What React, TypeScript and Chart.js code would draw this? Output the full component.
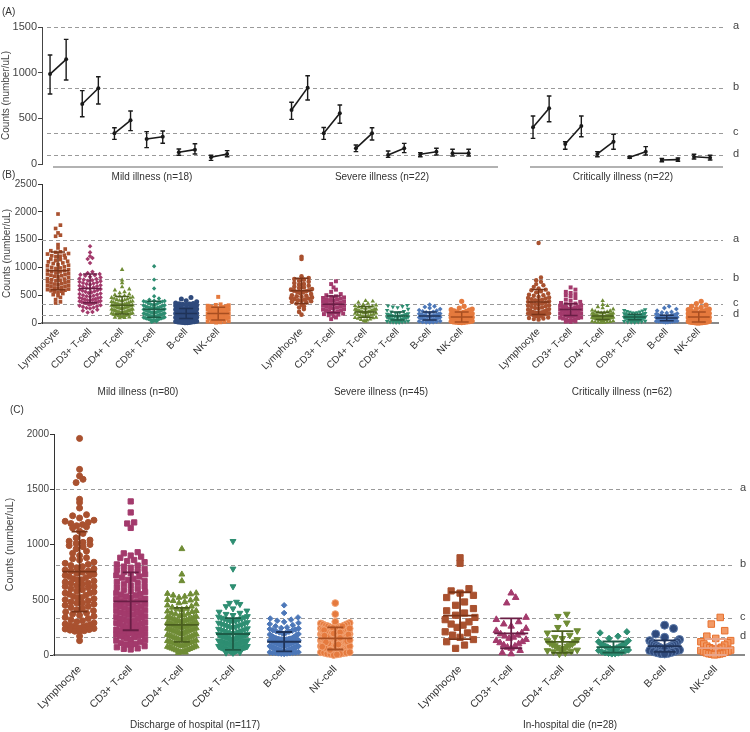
import { useEffect, useRef } from "react";
import { Chart, registerables } from "chart.js";

Chart.register(...registerables);
const FONT = "'Liberation Sans', Arial, Helvetica, sans-serif";
Chart.defaults.font.family = FONT;

const W = 750;
const cellTypes = ["Lymphocyte", "CD3+ T-cell", "CD4+ T-cell", "CD8+ T-cell", "B-cell", "NK-cell"];
const refLetters = ["a", "b", "c", "d"];

// ================= Panel A (paired means with error bars) =================
const aGroupLabels = ["Mild illness (n=18)", "Severe illness (n=22)", "Critically illness (n=22)"];
const aMildMean = [985, 1146, 657, 829, 336, 478, 274, 299, 128, 157, 73, 110];
const aMildLow = [767, 920, 518, 657, 270, 365, 179, 227, 95, 110, 40, 80];
const aMildHigh = [1194, 1365, 803, 956, 397, 580, 354, 361, 164, 222, 95, 146];
const aSevereMean = [591, 836, 336, 555, 172, 336, 99, 172, 106, 135, 117, 117];
const aSevereLow = [489, 701, 270, 446, 135, 263, 73, 124, 80, 99, 88, 88];
const aSevereHigh = [676, 967, 400, 646, 208, 397, 142, 226, 124, 172, 161, 161];
const aCritMean = [402, 610, 219, 416, 110, 244, 73, 135, 44, 48, 80, 69];
const aCritLow = [281, 463, 161, 299, 80, 161, 62, 99, 25, 30, 55, 44];
const aCritHigh = [526, 745, 244, 526, 135, 325, 84, 190, 62, 66, 106, 95];
const aRefs = [1500, 835, 336, 95];

// ================= Panel B (dot plots by severity) =================
const bGroupLabels = ["Mild illness (n=80)", "Severe illness (n=45)", "Critically illness (n=62)"];
const bRefs = [1500, 783, 350, 152];

const bMildLymph = [1960,1760,1700,1620,1580,1560,1410,1350,1330,1300,1280,1270,1250,1240,1220,1210,1200,1190,1170,1150,1140,1120,1110,1100,1080,1070,1050,1040,1030,1010,1000,990,980,960,950,940,930,920,900,890,880,870,860,850,840,830,820,800,790,780,770,760,750,740,730,720,710,700,690,680,670,660,650,640,630,620,610,600,590,580,570,560,550,530,510,490,460,420,380,360];
const bMildCD3 = [1380,1270,1200,1170,1150,1080,920,900,880,870,860,850,830,820,800,790,780,770,760,750,740,730,720,710,700,690,680,670,660,650,640,630,620,610,600,590,580,570,560,550,540,530,520,510,500,490,480,470,460,455,450,440,430,425,420,410,400,395,390,385,380,375,370,365,360,355,350,340,330,320,310,300,290,280,270,260,240,220,200,190];
const bMildCD4 = [960,770,720,650,610,590,560,540,520,505,490,480,465,455,450,440,430,420,415,405,400,390,385,380,370,362,355,350,345,338,332,326,320,316,310,305,300,296,290,285,280,276,270,266,260,256,250,246,240,236,230,226,222,218,212,208,204,200,196,192,188,184,180,176,172,166,160,156,150,146,140,134,128,122,118,112,106,100,95,90];
const bMildCD8 = [1020,780,620,480,440,420,400,395,390,385,380,370,360,350,340,330,325,320,315,310,300,295,290,285,280,275,270,265,260,255,250,245,240,235,230,225,220,215,210,205,200,196,192,188,184,180,176,172,168,164,160,156,152,148,144,140,136,132,128,124,120,116,112,108,104,100,95,90,85,80,75,70,65,60,55,50,45,40,30,20];
const bMildB = [460,430,400,380,360,350,345,340,335,330,320,310,300,290,280,270,260,255,250,245,240,235,230,225,220,215,210,205,200,196,192,188,184,180,176,172,168,164,160,156,152,148,144,140,136,132,128,124,120,116,112,108,104,100,96,92,88,84,80,76,72,68,64,60,56,52,48,44,40,36,32,28,24,20,16,12,10,8,6,4];
const bMildNK = [470,335,325,318,310,302,296,290,284,278,272,266,260,254,248,242,236,230,224,218,212,206,200,194,188,182,176,170,164,158,152,146,140,134,128,122,116,110,104,98,92,86,80,74,68,62,56,50,44,38,32,26,20,14,8,300,280,260,240,220,200,180,160,140,120,100,80,60,40,20,250,230,210,190,170,150,130,110,90,70];
const bMildMean = [939, 621, 319, 247, 170, 170];
const bMildSD = [340, 259, 158, 145, 90, 115];

const bSevereLymph = [1190,1150,840,810,790,780,760,740,720,700,690,670,650,640,630,610,600,590,580,570,560,550,540,520,500,490,480,470,460,450,440,430,420,410,400,390,380,370,350,330,300,280,250,200,150];
const bSevereCD3 = [750,700,640,600,560,520,500,480,470,460,450,440,430,420,410,400,390,380,370,360,350,340,330,320,310,300,290,280,270,260,250,240,230,220,210,200,190,180,170,160,150,140,120,100,70];
const bSevereCD4 = [400,390,370,350,330,320,310,300,290,280,270,260,250,245,240,235,230,225,220,215,210,205,200,195,190,185,180,175,170,160,150,145,140,130,120,110,100,95,90,80,70,60,50,40,30];
const bSevereCD8 = [320,310,300,290,280,250,230,210,200,190,180,170,160,155,150,145,140,135,130,125,120,115,110,105,100,95,90,85,80,75,70,65,60,55,50,45,40,35,30,25,20,18,15,12,10];
const bSevereB = [330,300,290,270,250,230,220,210,200,190,180,170,165,160,155,150,145,140,135,130,125,120,115,110,105,100,95,90,85,80,75,70,65,60,55,50,45,40,35,30,25,20,15,12,10];
const bSevereNK = [390,300,270,250,240,230,220,210,200,190,180,170,160,150,145,140,135,130,125,120,115,110,105,100,95,90,85,80,75,70,65,60,55,50,45,40,35,30,25,20,18,15,12,10,8];
const bSevereMean = [578, 335, 200, 127, 127, 110];
const bSevereSD = [226, 150, 95, 72, 72, 90];

const bCritLymph = [1440,820,770,740,700,680,650,620,600,590,570,550,530,510,500,490,470,460,450,440,430,420,410,400,390,380,370,360,350,340,330,320,310,300,290,280,270,260,250,240,230,220,210,200,195,190,185,180,175,170,165,160,150,140,130,120,110,100,90,80,70,60];
const bCritCD3 = [640,600,560,540,520,500,480,450,420,400,380,360,350,340,330,320,310,300,290,280,270,260,255,250,245,240,235,230,225,220,215,210,205,200,195,190,185,180,175,170,165,160,155,150,145,140,135,130,125,120,110,100,95,90,80,70,60,50,40,30,25,20];
const bCritCD4 = [400,330,310,290,270,250,230,220,210,200,190,185,180,175,170,165,160,155,150,145,140,135,130,125,120,118,115,112,110,108,105,102,100,98,95,92,90,88,85,82,80,78,75,72,70,68,65,62,60,58,55,50,45,40,35,30,25,20,18,15,12,10];
const bCritCD8 = [240,230,220,210,200,195,190,185,180,175,170,165,160,155,150,145,140,135,130,128,125,122,120,118,115,112,110,108,105,102,100,98,95,92,90,88,85,82,80,78,75,72,70,68,65,62,60,58,55,52,50,48,45,42,40,35,30,25,20,18,15,10];
const bCritB = [300,270,250,220,200,190,180,170,160,150,145,140,135,130,125,120,115,110,105,100,98,96,94,92,90,88,86,84,82,80,78,76,74,72,70,68,66,64,62,60,58,56,54,52,50,48,46,44,42,40,38,36,34,32,30,28,26,24,22,20,15,10];
const bCritNK = [390,350,320,300,280,260,250,240,230,220,210,200,190,180,175,170,165,160,155,150,145,140,135,130,125,120,115,110,105,100,96,92,88,84,80,76,72,68,64,60,56,52,48,44,40,36,32,28,24,20,18,16,14,12,10,9,8,6,5,4,3,2];
const bCritMean = [379, 241, 127, 108, 90, 110];
const bCritSD = [225, 105, 66, 48, 50, 90];

// ================= Panel C (dot plots by outcome) =================
const cGroupLabels = ["Discharge of hospital (n=117)", "In-hospital die (n=28)"];
const cRefs = [1500, 811, 332, 163];

const cDisLymph = [1960,1680,1620,1590,1560,1410,1380,1330,1270,1260,1240,1220,1210,1200,1190,1180,1170,1160,1150,1120,1100,1060,1040,1030,1020,1010,1000,990,980,960,940,920,900,880,860,840,820,810,800,790,780,770,760,750,740,730,720,710,700,690,680,670,660,650,640,630,620,610,600,590,580,570,560,550,540,530,520,510,500,490,480,470,460,450,440,430,420,410,400,390,380,370,360,350,340,330,320,310,300,290,280,275,270,265,260,255,250,245,240,235,230,225,220,215,210,170,130,870,830,760,720,680,650,620,560,520,470];
const cDisCD3 = [1390,1290,1200,1190,1150,930,920,900,890,880,860,850,840,820,810,800,790,780,770,760,750,740,730,720,710,700,690,680,670,660,650,640,630,620,610,600,590,580,570,560,550,545,540,530,520,510,505,500,490,485,480,470,465,460,450,445,440,430,425,420,410,405,400,390,385,380,370,365,360,350,345,340,330,325,320,310,305,300,290,285,280,270,265,260,250,245,240,230,225,220,210,205,200,190,185,180,170,165,160,150,140,130,120,110,100,90,80,70,60,50,55,95,135,175,215,255,295];
const cDisCD4 = [960,730,670,560,555,550,540,530,520,510,500,495,490,480,470,460,450,440,430,420,415,410,400,395,390,380,375,370,360,355,350,345,340,335,330,325,320,315,310,305,300,296,292,288,284,280,276,272,268,264,260,256,252,248,244,240,236,232,228,224,220,216,212,208,204,200,196,192,188,184,180,176,172,168,164,160,156,152,148,144,140,136,132,128,124,120,116,112,108,104,100,96,92,88,84,80,76,72,68,64,60,56,52,48,44,40,36,32,28,24,20,230,250,270,290,310,330];
const cDisCD8 = [1030,780,620,480,470,460,440,420,400,390,380,370,360,350,345,340,335,330,325,320,315,310,305,300,295,290,285,280,275,270,265,260,255,250,245,240,235,230,225,220,215,210,205,200,196,192,188,184,180,176,172,168,164,160,156,152,148,144,140,136,132,128,124,120,116,112,108,104,100,96,92,88,84,80,76,72,68,64,60,56,52,48,44,40,36,32,28,24,20,18,110,120,130,140,150,160,170,180,190,100,90,80,70,60,50,40,30,35,45,55,65,75,85,95,105,115,125];
const cDisB = [450,380,340,330,320,310,300,290,280,270,260,250,245,240,235,230,225,220,215,210,205,200,195,190,185,180,175,170,165,160,155,150,148,146,144,142,140,138,136,134,132,130,128,126,124,122,120,118,116,114,112,110,108,106,104,102,100,98,96,94,92,90,88,86,84,82,80,78,76,74,72,70,68,66,64,62,60,58,56,54,52,50,48,46,44,42,40,38,36,34,32,30,28,26,24,22,20,18,16,14,12,10,150,140,130,120,110,100,90,80,70,60,50,40,30,20,15];
const cDisNK = [470,370,300,290,285,280,275,270,265,260,255,250,245,240,235,230,225,220,215,210,205,200,196,192,188,184,180,176,172,168,164,160,156,152,148,144,140,136,132,128,124,120,116,112,108,104,100,96,92,88,84,80,76,72,68,64,60,56,52,48,44,40,36,32,28,24,20,16,12,8,250,230,210,190,170,150,130,110,90,70,50,30,10,240,220,200,180,160,140,120,100,80,60,40,20,0,260,245,225,205,185,165,145,125,105,85,65,45,25,5,195,175,155,135,115,95,75];
const cDisMean = [754, 486, 272, 190, 120, 150];
const cDisSD = [362, 262, 154, 143, 88, 100];

const cDieLymph = [880,830,600,580,560,540,520,480,450,420,400,380,360,340,320,300,280,270,250,230,210,200,180,160,140,120,90,60];
const cDieCD3 = [560,520,470,340,320,300,280,260,240,220,200,190,180,170,160,150,140,130,120,110,100,90,80,70,60,40,20,10];
const cDieCD4 = [370,350,290,250,220,200,180,160,150,140,130,120,110,100,95,90,85,80,70,60,55,50,45,40,35,30,20,10];
const cDieCD8 = [210,200,170,150,130,120,110,100,95,90,85,80,75,70,65,60,55,50,45,40,35,30,25,20,18,15,12,10];
const cDieB = [270,240,190,160,140,130,120,110,100,95,90,85,80,75,70,65,60,55,50,45,40,35,30,25,20,15,12,10];
const cDieNK = [340,280,220,170,150,130,120,110,100,90,80,70,65,60,55,50,45,40,35,30,25,20,15,12,10,8,5,2];
const cDieMean = [356, 196, 118, 72, 81, 62];
const cDieSD = [212, 135, 98, 50, 52, 83];

// ================= styles =================
const fillsA = ["#A9512F", "#A33A6C", "#6F8C35", "#2E8E72", "#2F4A7C", "#E57A3E"];
const fillsB = ["#A9512F", "#A33A6C", "#6F8C35", "#2E8E72", "#4C77B8", "#E57A3E"];
const meanColors = ["#7A3418", "#6A1E45", "#4A5E1E", "#1D5C47", "#1F3358", "#A84E20"];

function swarmOffsets(values: number[], pxPerY: number, binH: number, dx: number, maxW: number) {
  const idx = values.map((_, i) => i).sort((a, b) => values[a] - values[b]);
  const bins = new Map<number, number[]>();
  idx.forEach((i) => {
    const b = Math.round((values[i] * pxPerY) / binH);
    if (!bins.has(b)) bins.set(b, []);
    bins.get(b)!.push(i);
  });
  const off = new Array(values.length).fill(0);
  bins.forEach((list) => {
    const n = list.length;
    const step = n > 1 ? Math.min(dx, maxW / (n - 1)) : 0;
    const slots = Array.from({ length: n }, (_, k) => (k - (n - 1) / 2) * step).sort(
      (a, b) => Math.abs(a) - Math.abs(b) || a - b
    );
    list.forEach((i, k) => (off[i] = slots[k]));
  });
  return off;
}

function drawRefs(chart: any, refs: number[], x0: number, x1: number, letterX: number) {
  const { ctx, scales } = chart;
  const y = scales.y;
  ctx.save();
  ctx.strokeStyle = "#9a9a9a";
  ctx.lineWidth = 1;
  ctx.setLineDash([4, 3]);
  refs.forEach((v, i) => {
    const py = Math.round(y.getPixelForValue(v)) + 0.5;
    ctx.beginPath();
    ctx.moveTo(x0, py);
    ctx.lineTo(x1, py);
    ctx.stroke();
    ctx.fillStyle = "#444";
    ctx.font = `11px ${FONT}`;
    ctx.textAlign = "left";
    ctx.textBaseline = "middle";
    ctx.fillText(refLetters[i], letterX, py - 2);
  });
  ctx.restore();
}

const plainTick = (v: any) => String(v);

function buildA(canvas: HTMLCanvasElement) {
  const H = 190;
  const area = { left: 42, right: 723, top: 27, bottom: 164 };
  const groups = [
    { start: 0, mean: aMildMean, low: aMildLow, high: aMildHigh },
    { start: 15, mean: aSevereMean, low: aSevereLow, high: aSevereHigh },
    { start: 30, mean: aCritMean, low: aCritLow, high: aCritHigh },
  ];
  const datasets: any[] = [];
  groups.forEach((g) => {
    for (let j = 0; j < 6; j++) {
      datasets.push({
        data: [
          { x: g.start + 2 * j, y: g.mean[2 * j] },
          { x: g.start + 2 * j + 1, y: g.mean[2 * j + 1] },
        ],
        showLine: true,
        borderColor: "#1a1a1a",
        backgroundColor: "#1a1a1a",
        borderWidth: 1.6,
        pointRadius: 2,
        pointBorderWidth: 0,
        clip: false,
      });
    }
  });
  const plugin = {
    id: "aDecor",
    beforeDatasetsDraw(chart: any) {
      drawRefs(chart, aRefs, 47, 723, 733);
    },
    afterDatasetsDraw(chart: any) {
      const { ctx, scales } = chart;
      const x = scales.x, y = scales.y;
      ctx.save();
      ctx.strokeStyle = "#1a1a1a";
      ctx.lineWidth = 1.4;
      groups.forEach((g) =>
        g.mean.forEach((_, k) => {
          const px = x.getPixelForValue(g.start + k);
          const y1 = y.getPixelForValue(g.low[k]);
          const y2 = y.getPixelForValue(g.high[k]);
          ctx.beginPath();
          ctx.moveTo(px, y1);
          ctx.lineTo(px, y2);
          ctx.moveTo(px - 2.3, y1);
          ctx.lineTo(px + 2.3, y1);
          ctx.moveTo(px - 2.3, y2);
          ctx.lineTo(px + 2.3, y2);
          ctx.stroke();
        })
      );
      ctx.restore();
    },
    afterDraw(chart: any) {
      const { ctx } = chart;
      ctx.save();
      ctx.strokeStyle = "#666";
      ctx.lineWidth = 1.2;
      [[53, 498], [530, 723]].forEach(([a, b]) => {
        ctx.beginPath();
        ctx.moveTo(a, 167);
        ctx.lineTo(b, 167);
        ctx.stroke();
      });
      ctx.fillStyle = "#333";
      ctx.font = `10px ${FONT}`;
      ctx.textAlign = "center";
      ctx.textBaseline = "middle";
      [152, 382, 623].forEach((px, i) => ctx.fillText(aGroupLabels[i], px, 177));
      ctx.textAlign = "left";
      ctx.fillText("(A)", 2, 12);
      ctx.restore();
    },
  };
  return new Chart(canvas, {
    type: "scatter",
    data: { datasets },
    options: {
      animation: false,
      responsive: false,
      maintainAspectRatio: false,
      events: [],
      layout: { padding: { left: 0, top: area.top, right: W - area.right, bottom: H - area.bottom } },
      plugins: { legend: { display: false }, tooltip: { enabled: false } },
      scales: {
        x: { type: "linear", display: false, min: -0.5, max: 41.8, bounds: "data" },
        y: {
          min: 0,
          max: 1500,
          afterFit: (s: any) => {
            s.width = area.left;
            s.paddingTop = 0;
            s.paddingBottom = 0;
          },
          ticks: { stepSize: 500, font: { size: 11 }, color: "#444", padding: 1, callback: plainTick },
          grid: { display: true, drawOnChartArea: false, drawTicks: true, tickLength: 4, color: "#444" },
          border: { display: true, color: "#444", width: 1 },
          title: { display: true, text: "Counts (number/uL)", font: { size: 10 }, color: "#444", padding: { top: 0, bottom: 0 } },
        },
      },
    } as any,
    plugins: [plugin],
  });
}

function buildDot(canvas: HTMLCanvasElement, P: any) {
  const area = P.area;
  const pxPerY = (area.bottom - area.top) / P.yMax;
  const pxPerX = (area.right - area.left) / (P.xMax - P.xMin);
  const datasets: any[] = [];
  P.groups.forEach((g: any) =>
    g.sets.forEach((vals: number[], k: number) => {
      const pos = g.start + k;
      const offs = swarmOffsets(vals, pxPerY, g.binH, g.dx, g.maxW);
      const shape = g.shapes[k];
      datasets.push({
        data: vals.map((v, i) => ({ x: pos + offs[i] / pxPerX, y: v })),
        pointStyle: shape === "triDown" ? "triangle" : shape,
        pointRotation: shape === "triDown" ? 180 : 0,
        pointRadius: g.radii[k],
        backgroundColor: g.fills[k],
        borderColor: g.borders ? g.borders[k] : g.fills[k],
        pointBorderWidth: g.borders ? 1 : 0,
        showLine: false,
        clip: false,
      });
    })
  );
  const tickPos: number[] = [];
  const tickLab: string[] = [];
  P.groups.forEach((g: any) => cellTypes.forEach((c, k) => { tickPos.push(g.start + k); tickLab.push(c); }));

  const plugin = {
    id: "dotDecor",
    beforeDatasetsDraw(chart: any) {
      drawRefs(chart, P.refs, P.refX0, P.refX1, P.letterX);
    },
    afterDatasetsDraw(chart: any) {
      const { ctx, scales } = chart;
      const x = scales.x, y = scales.y;
      ctx.save();
      ctx.lineWidth = P.barWidth;
      P.groups.forEach((g: any) =>
        g.mean.forEach((m: number, k: number) => {
          const px = x.getPixelForValue(g.start + k);
          const pm = y.getPixelForValue(m);
          const pt = y.getPixelForValue(m + g.sd[k]);
          const pb = y.getPixelForValue(Math.max(m - g.sd[k], 0));
          ctx.strokeStyle = g.meanColors[k];
          ctx.beginPath();
          ctx.moveTo(px - g.meanW / 2, pm);
          ctx.lineTo(px + g.meanW / 2, pm);
          ctx.moveTo(px, pt);
          ctx.lineTo(px, pb);
          ctx.moveTo(px - g.capW / 2, pt);
          ctx.lineTo(px + g.capW / 2, pt);
          ctx.moveTo(px - g.capW / 2, pb);
          ctx.lineTo(px + g.capW / 2, pb);
          ctx.stroke();
        })
      );
      ctx.restore();
    },
    afterDraw(chart: any) {
      const { ctx } = chart;
      ctx.save();
      ctx.fillStyle = "#333";
      ctx.font = `${P.groupFont}px ${FONT}`;
      ctx.textAlign = "center";
      ctx.textBaseline = "middle";
      P.groupLabels.forEach((t: string, i: number) => ctx.fillText(t, P.groupLabelX[i], P.groupLabelY));
      ctx.textAlign = "left";
      ctx.font = `10px ${FONT}`;
      ctx.fillText(P.letter, P.letterXY[0], P.letterXY[1]);
      ctx.restore();
    },
  };

  return new Chart(canvas, {
    type: "scatter",
    data: { datasets },
    options: {
      animation: false,
      responsive: false,
      maintainAspectRatio: false,
      events: [],
      layout: { padding: { left: 0, top: area.top, right: W - area.right, bottom: 0 } },
      plugins: { legend: { display: false }, tooltip: { enabled: false } },
      scales: {
        x: {
          type: "linear",
          min: P.xMin,
          max: P.xMax,
          bounds: "data",
          afterBuildTicks: (s: any) => {
            s.ticks = tickPos.map((v) => ({ value: v }));
          },
          afterFit: (s: any) => {
            s.height = P.height - area.bottom;
            s.paddingLeft = 0;
            s.paddingRight = 0;
          },
          ticks: {
            autoSkip: false,
            maxRotation: 45,
            minRotation: 45,
            font: { size: P.xTickFont },
            color: "#333",
            padding: P.xTickPad,
            callback: (_v: any, i: number) => tickLab[i],
          },
          grid: { display: false, drawTicks: false },
          border: { display: true, color: "#8a8a8a", width: 2 },
        },
        y: {
          min: 0,
          max: P.yMax,
          afterFit: (s: any) => {
            s.width = area.left;
            s.paddingTop = 0;
            s.paddingBottom = 0;
          },
          ticks: { stepSize: 500, font: { size: P.yTickFont }, color: "#444", padding: 1, callback: plainTick },
          grid: { display: true, drawOnChartArea: false, drawTicks: true, tickLength: 4, color: "#333" },
          border: { display: true, color: "#333", width: 1 },
          title: {
            display: true,
            text: "Counts (number/uL)",
            font: { size: P.titleFont },
            color: "#444",
            padding: { top: P.titlePad, bottom: 0 },
          },
        },
      },
    } as any,
    plugins: [plugin],
  });
}

const panelB = {
  height: 235,
  area: { left: 42, right: 718, top: 19, bottom: 158 },
  yMax: 2500,
  xMin: -0.5,
  xMax: 20.6,
  xTickFont: 10,
  xTickPad: 3,
  yTickFont: 10,
  titleFont: 10,
  titlePad: 1,
  barWidth: 1.5,
  refs: bRefs,
  refX0: 42,
  refX1: 723,
  letterX: 733,
  groupLabels: bGroupLabels,
  groupLabelX: [138, 381, 622],
  groupLabelY: 227,
  groupFont: 10,
  letter: "(B)",
  letterXY: [2, 10],
  groups: [
    {
      start: 0,
      sets: [bMildLymph, bMildCD3, bMildCD4, bMildCD8, bMildB, bMildNK],
      mean: bMildMean, sd: bMildSD,
      shapes: ["rect", "rectRot", "triangle", "rectRot", "circle", "rect"],
      radii: [2.6, 2.3, 2.6, 2.2, 2.5, 2.8],
      fills: fillsA, meanColors,
      binH: 4.0, dx: 4.8, maxW: 21, meanW: 22, capW: 14,
    },
    {
      start: 7.6,
      sets: [bSevereLymph, bSevereCD3, bSevereCD4, bSevereCD8, bSevereB, bSevereNK],
      mean: bSevereMean, sd: bSevereSD,
      shapes: ["circle", "rect", "triangle", "triDown", "rectRot", "circle"],
      radii: [2.3, 2.8, 2.6, 2.6, 2.4, 2.6],
      fills: fillsB, meanColors,
      binH: 4.0, dx: 4.8, maxW: 21, meanW: 22, capW: 14,
    },
    {
      start: 15,
      sets: [bCritLymph, bCritCD3, bCritCD4, bCritCD8, bCritB, bCritNK],
      mean: bCritMean, sd: bCritSD,
      shapes: ["circle", "rect", "triangle", "triDown", "rectRot", "circle"],
      radii: [2.2, 2.8, 2.6, 2.6, 2.4, 2.6],
      fills: fillsB, meanColors,
      binH: 4.0, dx: 4.8, maxW: 21, meanW: 22, capW: 14,
    },
  ],
};

const panelC = {
  height: 332,
  area: { left: 54, right: 750, top: 34, bottom: 255 },
  yMax: 2000,
  xMin: -0.5,
  xMax: 13.0,
  xTickFont: 10.5,
  xTickPad: 8,
  yTickFont: 10,
  titleFont: 10.5,
  titlePad: 4,
  barWidth: 1.8,
  refs: cRefs,
  refX0: 56,
  refX1: 733,
  letterX: 740,
  groupLabels: cGroupLabels,
  groupLabelX: [195, 570],
  groupLabelY: 325,
  groupFont: 10,
  letter: "(C)",
  letterXY: [10, 10],
  groups: [
    {
      start: 0,
      sets: [cDisLymph, cDisCD3, cDisCD4, cDisCD8, cDisB, cDisNK],
      mean: cDisMean, sd: cDisSD,
      shapes: ["circle", "rect", "triangle", "triDown", "rectRot", "circle"],
      radii: [3.0, 3.7, 3.4, 3.4, 2.8, 3.4],
      fills: fillsB,
      borders: ["#A9512F", "#A33A6C", "#6F8C35", "#2E8E72", "#4C77B8", "#F2A273"],
      meanColors,
      binH: 6.0, dx: 7.0, maxW: 29, meanW: 34, capW: 16,
    },
    {
      start: 7.44,
      sets: [cDieLymph, cDieCD3, cDieCD4, cDieCD8, cDieB, cDieNK],
      mean: cDieMean, sd: cDieSD,
      shapes: ["rect", "triangle", "triDown", "rectRot", "circle", "rect"],
      radii: [4.4, 3.8, 3.8, 3.2, 4.0, 4.6],
      fills: ["#A9512F", "#A33A6C", "#6F8C35", "#2E8E72", "#2F4A7C", "#F29A66"],
      borders: ["#A9512F", "#A33A6C", "#6F8C35", "#2E8E72", "#5A78A8", "#E8712F"],
      meanColors: ["#7A3418", "#6A1E45", "#4A5E1E", "#1D5C47", "#1F3358", "#E8A48A"],
      binH: 11, dx: 9, maxW: 30, meanW: 34, capW: 22,
    },
  ],
};

export default function App() {
  const aRef = useRef<HTMLCanvasElement>(null);
  const bRef = useRef<HTMLCanvasElement>(null);
  const cRef = useRef<HTMLCanvasElement>(null);
  useEffect(() => {
    const charts = [
      buildA(aRef.current!),
      buildDot(bRef.current!, panelB),
      buildDot(cRef.current!, panelC),
    ];
    return () => charts.forEach((c) => c.destroy());
  }, []);
  const cs = (top: number, h: number): any => ({ position: "absolute", left: 0, top, width: W, height: h });
  return (
    <div style={{ position: "absolute", left: 0, top: 0, width: W, height: 732, background: "#fff", overflow: "hidden" }}>
      <canvas ref={aRef} width={W} height={190} style={cs(0, 190)} />
      <canvas ref={bRef} width={W} height={235} style={cs(165, 235)} />
      <canvas ref={cRef} width={W} height={332} style={cs(400, 332)} />
    </div>
  );
}
